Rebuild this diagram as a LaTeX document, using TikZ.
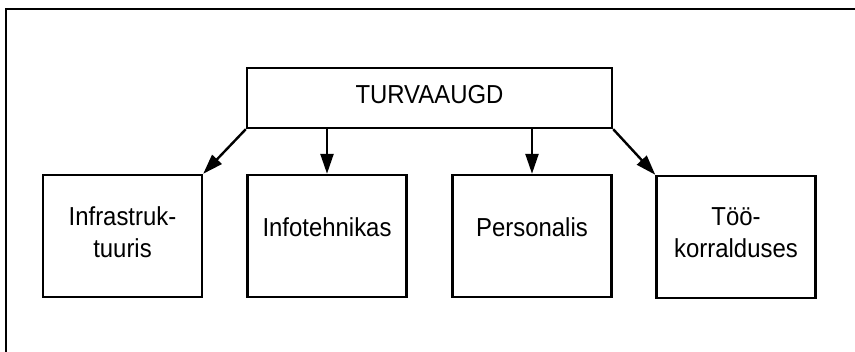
\documentclass[tikz,border=0pt]{standalone}
\usepackage{fontspec}
\setmainfont{Liberation Sans}[FakeStretch=0.92]
\usetikzlibrary{arrows.meta}
\begin{document}
\begin{tikzpicture}[x=1pt,y=-1pt,
  box/.style={draw,line width=2.4pt,inner sep=0pt,minimum width=159pt,minimum height=122pt},
  lbl/.style={font=\fontsize{26}{32}\selectfont,align=center,inner sep=0pt,anchor=base},
  link/.style={line width=2.4pt,-{Triangle[length=20pt,width=13pt]}}]
\useasboundingbox (0,0) rectangle (855,352);
% outer frame
\draw[line width=2.4pt] (6,352) -- (6,9) -- (855,9);
% root box
\node[box,minimum width=365pt,minimum height=60pt] (top) at (429.5,98) {};
\node[lbl] (ttop) at (429.5,104) {TURVAAUGD};
% child boxes
\node[box] (b1) at (122.5,236) {};
\node[box] (b2) at (327,236) {};
\node[box] (b3) at (532,236) {};
\node[box] (b4) at (736,237) {};
% labels (base anchor sits on the last line)
\node[lbl] (t1) at (122.5,257.7) {Infrastruk-\\tuuris};
\node[lbl] (t2) at (327,237) {Infotehnikas};
\node[lbl] (t3) at (532,237) {Personalis};
\node[lbl] (t4) at (736,257.7) {Töö-\\korralduses};
% connectors
\draw[link] (top.south west) -- (b1.north east);
\draw[link] (top.south -| b2.north) -- (b2.north);
\draw[link] (top.south -| b3.north) -- (b3.north);
\draw[link] (top.south east) -- (b4.north west);
\end{tikzpicture}
\end{document}
